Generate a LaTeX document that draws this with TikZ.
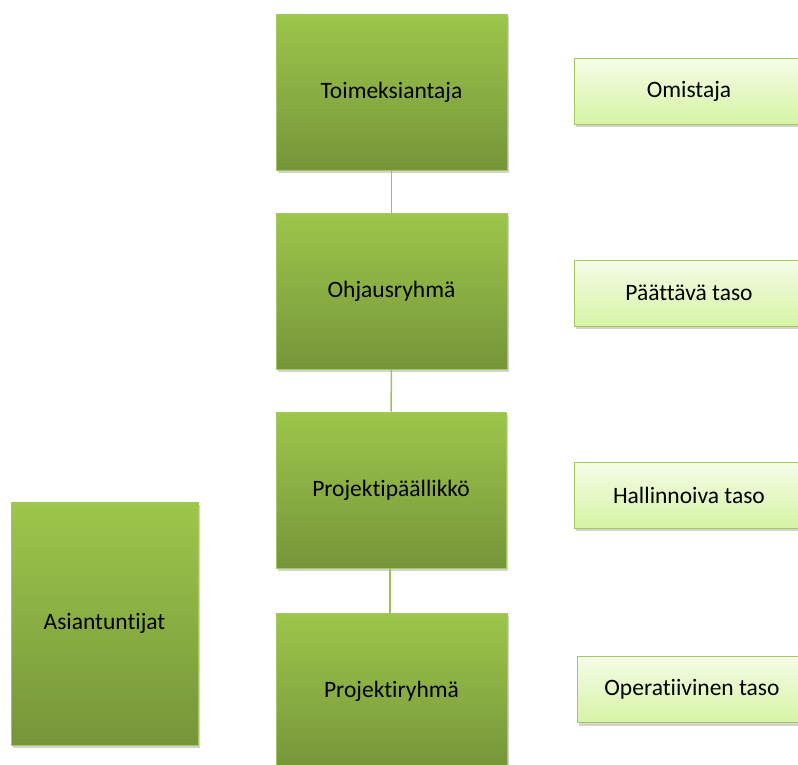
\documentclass[tikz,border=0pt]{standalone}
\usepackage{fontspec}
\setmainfont[Ligatures = NoCommon]{Carlito}
\usetikzlibrary{shadows}
\definecolor{greentop}{HTML}{9DC64B}
\definecolor{greenbot}{HTML}{76953A}
\definecolor{lighttop}{HTML}{F5FCE8}
\definecolor{lightbot}{HTML}{D6F4A4}
\definecolor{edgegreen}{HTML}{A2C85E}
\definecolor{linkgreen}{HTML}{98C455}
\tikzset{
  level/.style = {draw = edgegreen, line width = 0.8pt, top color = greentop, bottom color = greenbot,
    minimum width = 231pt, minimum height = 156pt, font = \fontsize{23.5}{28}\selectfont,
    drop shadow = {opacity = 0.35, shadow xshift = 2pt, shadow yshift = -3pt}},
  tag/.style = {draw = edgegreen, line width = 0.8pt, top color = lighttop, bottom color = lightbot,
    minimum width = 230pt, minimum height = 66pt, font = \fontsize{23.5}{28}\selectfont,
    drop shadow = {opacity = 0.35, shadow xshift = 2pt, shadow yshift = -3pt}},
  link/.style = {draw = linkgreen, line width = 1.5pt}
}
\begin{document}
\begin{tikzpicture}[x = 1pt, y = -1pt]
\useasboundingbox (0,0) rectangle (798,764);
\path (391.5,92) node[level] (T) {Toimeksiantaja};
\path (391.5,291) node[level] (O) {Ohjausryhmä};
\path (391,490) node[level, minimum width = 230pt] (P) {Projektipäällikkö};
\path (391.5,691) node[level] (R) {Projektiryhmä};
\path (104.5,623.5) node[level, minimum width = 187pt, minimum height = 243pt] (A) {Asiantuntijat};
\path (689,91) node[tag] (Om) {Omistaja};
\path (689,293) node[tag] (Pa) {Päättävä taso};
\path (689,495) node[tag] (Ha) {Hallinnoiva taso};
\path (692,689.5) node[tag] (Op) {Operatiivinen taso};
\draw[link] (T) -- (O);
\draw[link] (O) -- (P);
\draw[link] ([xshift = -1pt]P.south) -- ([xshift = -1.5pt]R.north);
\end{tikzpicture}
\end{document}
